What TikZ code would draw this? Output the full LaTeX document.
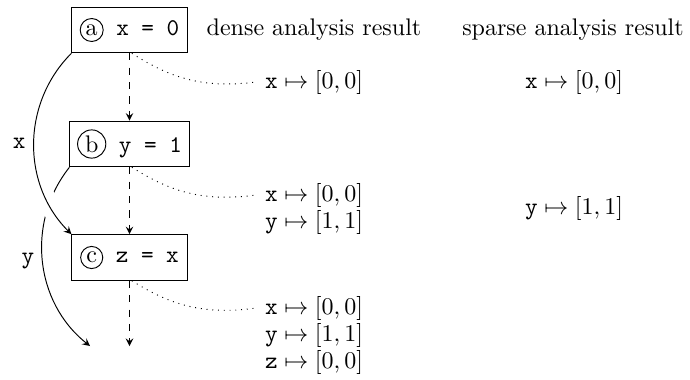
\documentclass[tikz,border=0pt]{standalone}
\usetikzlibrary{arrows.meta}
\pgfdeclarelayer{bg}
\pgfsetlayers{bg,main}
\newcommand\circl[1]{\tikz[baseline=(C.base)]\node[draw,solid,circle,inner sep=1pt,minimum width=0pt,minimum height=0pt,font=\rmfamily](C){#1};}
\begin{document}
\begin{tikzpicture}[x=0.4167pt,y=-0.4167pt,
  stmt/.style={draw,minimum width=48pt,minimum height=19pt,inner sep=3pt,font=\ttfamily},
  flow/.style={dashed,-stealth},
  dep/.style={-stealth},
  link/.style={dotted},
  lbl/.style={font=\ttfamily}]
\useasboundingbox (0,0) rectangle (690,379);
\node[stmt] (a) at (129.5,30) {\circl{a} x = 0};
\node[stmt] (b) at (129.5,144) {\circl{b} y = 1};
\node[stmt] (c) at (129.5,257.5) {\circl{c} z = x};
\coordinate (e) at (129.5,346);
\coordinate (f) at (90,346);
\node (hd) at (314,30) {dense analysis result};
\node (hs) at (573,30) {sparse analysis result};
\node (d1) at (314,82) {$\mathtt{x}\mapsto[0,0]$};
\node (s1) at (574,82) {$\mathtt{x}\mapsto[0,0]$};
\node (d2x) at (314,195) {$\mathtt{x}\mapsto[0,0]$};
\node (d2y) at (314,222) {$\mathtt{y}\mapsto[1,1]$};
\node (s2) at (574,208.5) {$\mathtt{y}\mapsto[1,1]$};
\node (d3x) at (314,308) {$\mathtt{x}\mapsto[0,0]$};
\node (d3y) at (314,335) {$\mathtt{y}\mapsto[1,1]$};
\node (d3z) at (314,362) {$\mathtt{z}\mapsto[0,0]$};
\draw[flow] (a) -- (b);
\draw[flow] (b) -- (c);
\draw[flow] (c.south) -- (e);
\draw[link] ([xshift=1pt]a.south) to[bend right=20] (d1.west);
\draw[link] ([xshift=1pt]b.south) to[bend right=20] (d2x.west);
\draw[link] ([xshift=1pt]c.south) to[bend right=20] (d3x.west);
\begin{pgfonlayer}{bg}
\draw[dep] (b.south west) to[bend right=45] node[left,lbl]{y} (f);
\draw[dep,preaction={draw=white,line width=8pt,arrows=-}] (a.south west) to[bend right=45] node[left,lbl]{x} (c.north west);
\end{pgfonlayer}
\end{tikzpicture}
\end{document}
